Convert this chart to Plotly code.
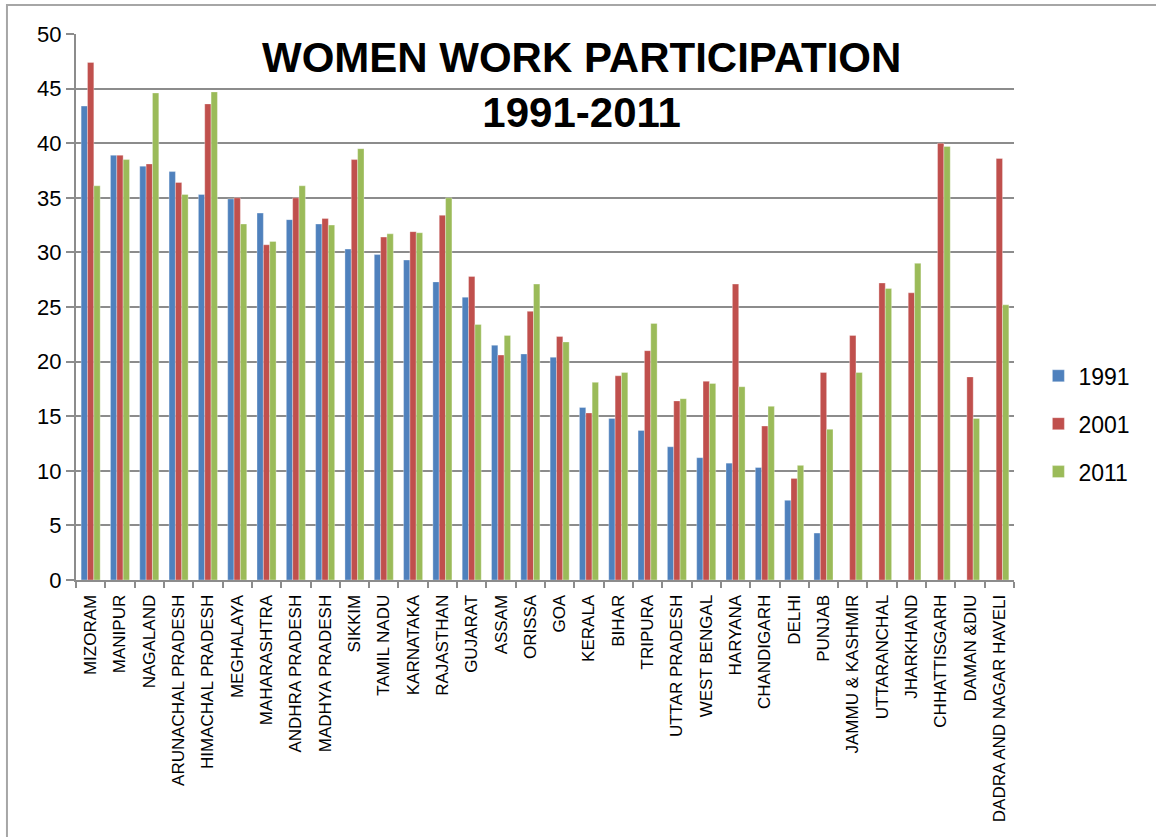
import plotly.graph_objects as go

states = [
    "MIZORAM", "MANIPUR", "NAGALAND", "ARUNACHAL PRADESH", "HIMACHAL PRADESH",
    "MEGHALAYA", "MAHARASHTRA", "ANDHRA PRADESH", "MADHYA PRADESH", "SIKKIM",
    "TAMIL NADU", "KARNATAKA", "RAJASTHAN", "GUJARAT", "ASSAM", "ORISSA", "GOA",
    "KERALA", "BIHAR", "TRIPURA", "UTTAR PRADESH", "WEST BENGAL", "HARYANA",
    "CHANDIGARH", "DELHI", "PUNJAB", "JAMMU & KASHMIR", "UTTARANCHAL",
    "JHARKHAND", "CHHATTISGARH", "DAMAN &DIU", "DADRA AND NAGAR HAVELI",
]

wpr_1991 = [
    43.4, 38.9, 37.9, 37.4, 35.3, 34.9, 33.6, 33.0, 32.6, 30.3,
    29.8, 29.3, 27.3, 25.9, 21.5, 20.7, 20.4, 15.8, 14.8, 13.7,
    12.2, 11.2, 10.7, 10.3, 7.3, 4.3, None, None, None, None, None, None,
]
wpr_2001 = [
    47.4, 38.9, 38.1, 36.4, 43.6, 35.0, 30.7, 35.0, 33.1, 38.5,
    31.4, 31.9, 33.4, 27.8, 20.6, 24.6, 22.3, 15.3, 18.7, 21.0,
    16.4, 18.2, 27.1, 14.1, 9.3, 19.0, 22.4, 27.2, 26.3, 40.0, 18.6, 38.6,
]
wpr_2011 = [
    36.1, 38.5, 44.6, 35.3, 44.7, 32.6, 31.0, 36.1, 32.5, 39.5,
    31.7, 31.8, 35.0, 23.4, 22.4, 27.1, 21.8, 18.1, 19.0, 23.5,
    16.6, 18.0, 17.7, 15.9, 10.5, 13.8, 19.0, 26.7, 29.0, 39.7, 14.8, 25.2,
]

series = [
    ("1991", wpr_1991, "#4F81BD"),
    ("2001", wpr_2001, "#C0504D"),
    ("2011", wpr_2011, "#9BBB59"),
]

FONT = "Liberation Sans, Arial, sans-serif"
GRID = "#8c8c8c"

fig = go.Figure()
for name, vals, color in series:
    fig.add_trace(go.Bar(
        x=states, y=vals, name=name, legendgroup=name,
        marker=dict(color=color, line=dict(color="rgba(255,255,255,0.55)", width=0.6)),
    ))

fig.update_layout(
    width=1156, height=837,
    margin=dict(l=76, r=142, t=34, b=257),
    paper_bgcolor="white", plot_bgcolor="white",
    barmode="group", bargap=0.35, bargroupgap=0,
    showlegend=True,
    legend=dict(
        x=1.026, xanchor="left", y=0.286, yanchor="middle",
        font=dict(family=FONT, size=23, color="#000"),
        tracegroupgap=15, bgcolor="rgba(0,0,0,0)",
    ),
    font=dict(family=FONT, color="#000"),
)

fig.update_yaxes(
    range=[0, 50], dtick=5, automargin=False,
    showgrid=True, gridcolor=GRID, gridwidth=2,
    showline=True, linecolor=GRID, linewidth=2,
    ticks="outside", ticklen=8, tickcolor=GRID, tickwidth=2,
    tickfont=dict(family=FONT, size=22, color="#000"),
    zeroline=False,
)
fig.update_xaxes(
    type="category", tickangle=-90, automargin=False,
    showline=True, linecolor=GRID, linewidth=2,
    ticks="outside", tickson="boundaries", ticklen=6, tickcolor=GRID, tickwidth=2,
    ticklabelstandoff=6,
    tickfont=dict(family=FONT, size=17, color="#000"),
    showgrid=False,
)

# chart title
fig.add_annotation(
    text="<b>WOMEN WORK PARTICIPATION<br>1991-2011</b>",
    xref="paper", yref="paper", x=0.539, y=0.9075,
    xanchor="center", yanchor="middle", showarrow=False,
    font=dict(family=FONT, size=42, color="#000"),
)

# outer chart frame
fig.add_shape(
    type="rect", xref="paper", yref="paper",
    x0=-0.0736, x1=1.5, y0=-1.0, y1=1.0531,
    line=dict(color="#a6a6a6", width=2), layer="below",
)

fig.write_html("out.html")
